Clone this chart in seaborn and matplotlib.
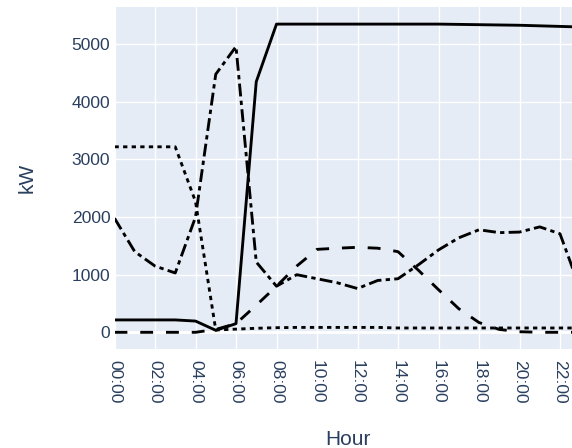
import matplotlib
matplotlib.use("Agg")
import matplotlib.pyplot as plt
import pandas as pd
import seaborn as sns

# Hourly power profiles (kW)
hours = list(range(24))
hour_labels = [f"{h:02d}:00" for h in hours]

series_names = ["Series A", "Series B", "Series C", "Series D"]
series_a_kw = [215, 215, 215, 215, 195, 35, 150, 4350, 5350, 5350, 5350, 5350,
               5350, 5350, 5350, 5350, 5350, 5345, 5340, 5335, 5330, 5320, 5310, 5300]
series_b_kw = [0, 0, 0, 0, 0, 50, 150, 470, 800, 1150, 1440, 1460,
               1475, 1460, 1400, 1080, 740, 410, 170, 50, 10, 0, 0, 0]
series_c_kw = [3220, 3220, 3220, 3220, 2270, 40, 55, 70, 80, 85, 85, 85,
               85, 85, 75, 75, 75, 75, 75, 75, 75, 75, 75, 75]
series_d_kw = [1980, 1400, 1150, 1030, 2000, 4480, 4960, 1220, 800, 1000, 930, 860,
               760, 900, 930, 1170, 1430, 1640, 1780, 1730, 1740, 1830, 1710, 750]

y_ticks = [0, 1000, 2000, 3000, 4000, 5000]

frames = []
for name, vals in zip(series_names, [series_a_kw, series_b_kw, series_c_kw, series_d_kw]):
    frames.append(pd.DataFrame({"hour": hours, "kW": vals, "series": name}))
df = pd.concat(frames, ignore_index=True)

sns.set_theme(style="darkgrid")
plt.rcParams["font.family"] = ["Liberation Sans", "DejaVu Sans"]

TEXT = "#2a3f5f"
BG = "#E5ECF6"

fig = plt.figure(figsize=(5.72, 4.48), dpi=100)
W, H = 572, 448
left, right, top, bottom = 114.5, 580.25, 7.0, 349.3
ax = fig.add_axes([left / W, (H - bottom) / H, (right - left) / W, (bottom - top) / H])
ax.set_facecolor(BG)

# dash codes in units of line width
dash_map = {
    "Series A": "",
    "Series B": (4.5, 4.5),
    "Series C": (1.5, 1.5),
    "Series D": (4.5, 1.5, 1.5, 1.5),
}
sns.lineplot(data=df, x="hour", y="kW", style="series", dashes=dash_map,
             color="black", linewidth=2.06, ax=ax, legend=False, sort=False)

ax.set_xlim(0, 23)
ax.set_ylim(-295, 5647)
ax.set_xticks(hours[::2])
ax.set_xticklabels(hour_labels[::2], rotation=-90)
ax.set_yticks(y_ticks)
ax.set_yticklabels([str(v) for v in y_ticks])

ax.grid(True, color="white", linewidth=1.0)
ax.axhline(0, color="white", linewidth=2.1, zorder=1)
ax.set_axisbelow(True)
for s in ax.spines.values():
    s.set_visible(False)

ax.tick_params(axis="x", length=0, pad=8, labelsize=12.6, labelcolor=TEXT)
ax.tick_params(axis="y", length=0, pad=3, labelsize=12.6, labelcolor=TEXT)
ax.set_xlabel("")
ax.set_ylabel("")

fig.text(27 / W, 1 - 178 / H, "kW", rotation=90, ha="center", va="center",
         fontsize=15, color=TEXT)
fig.text(347.5 / W, (H - 444.5) / H, "Hour", ha="center", va="baseline",
         fontsize=15, color=TEXT)

fig.savefig("out.png", dpi=100, facecolor="white")
